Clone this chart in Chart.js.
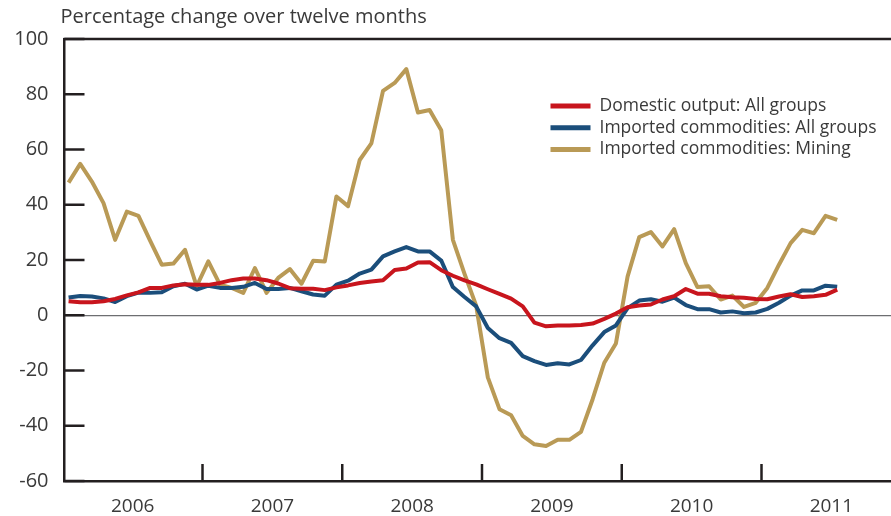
<!DOCTYPE html>
<html>
<head>
<meta charset="utf-8">
<script src="https://cdn.jsdelivr.net/npm/chart.js@4.4.0/dist/chart.umd.min.js"></script>
<style>
  html, body { margin: 0; padding: 0; background: #fff; }
</style>
</head>
<body>
<canvas id="chart" width="891" height="516"></canvas>
<script>
// monthly, Jan 2006 .. Jul 2011 (index 0 = Jan 2006)
var years = ['2006', '2007', '2008', '2009', '2010', '2011'];
var yTicks = [-60, -40, -20, 0, 20, 40, 60, 80, 100];
var seriesNames = ['Domestic output: All groups', 'Imported commodities: All groups', 'Imported commodities: Mining'];

var domestic = [5.1, 4.7, 4.7, 5.1, 5.9, 7.2, 8.3, 9.9, 9.9, 10.8, 11.2, 11.0,
  11.0, 11.7, 12.7, 13.3, 13.3, 12.7, 11.5, 9.8, 9.6, 9.6, 9.1, 10.1,
  10.8, 11.7, 12.2, 12.7, 16.4, 16.9, 19.1, 19.2, 16.3, 14.3, 12.6, 11.2,
  9.4, 7.7, 6.0, 3.2, -2.7, -4.0, -3.7, -3.7, -3.5, -3.0, -1.3, 0.6,
  2.9, 3.5, 3.9, 5.7, 6.9, 9.5, 7.8, 7.8, 6.9, 6.5, 6.3, 5.9,
  5.8, 6.8, 7.6, 6.6, 6.9, 7.4, 9.3];

var importedAll = [6.4, 7.0, 6.8, 6.1, 4.8, 6.9, 8.2, 8.1, 8.3, 10.5, 11.4, 9.3,
  10.7, 9.9, 9.9, 10.3, 11.7, 9.5, 9.5, 9.9, 8.7, 7.5, 7.1, 11.1,
  12.5, 15.1, 16.5, 21.3, 23.1, 24.7, 23.1, 23.1, 19.8, 10.2, 6.6, 3.2,
  -4.6, -8.3, -10.0, -14.8, -16.6, -18.0, -17.4, -17.8, -16.2, -10.9, -6.1, -3.7,
  2.6, 5.3, 5.8, 4.9, 6.4, 3.7, 2.2, 2.2, 1.0, 1.4, 0.7, 1.0,
  2.3, 4.5, 7.1, 9.0, 9.0, 10.7, 10.3];

var mining = [48.0, 54.8, 48.4, 40.6, 27.3, 37.5, 36.0, 27.0, 18.3, 18.7, 23.7, 10.5,
  19.5, 11.1, 9.9, 8.1, 17.1, 8.1, 13.5, 16.7, 11.4, 19.7, 19.5, 43.0,
  39.5, 56.2, 62.2, 81.2, 84.1, 89.1, 73.4, 74.3, 67.0, 27.3, 15.0, 3.5,
  -22.5, -34.0, -36.2, -43.7, -46.7, -47.3, -45.1, -45.1, -42.2, -30.4, -17.2, -10.2,
  14.0, 28.3, 30.1, 24.9, 31.2, 18.9, 10.2, 10.5, 5.7, 7.1, 3.0, 4.5,
  9.9, 18.3, 26.1, 30.9, 29.7, 36.0, 34.5];

var FONT = '"Open Sans", "Liberation Sans", sans-serif';
var TEXT = '#3a3a3a';
var AXIS = '#231f20';
var colors = ['#c8151d', '#1b4e7b', '#b99a56'];

function toPoints(arr) {
  return arr.map(function (v, i) { return { x: i, y: v }; });
}

// inward tick marks, top rule, title and legend
var decor = {
  id: 'decor',
  afterDraw: function (chart) {
    var c = chart.ctx, a = chart.chartArea;
    var xs = chart.scales.x, ys = chart.scales.y;
    c.save();
    c.strokeStyle = AXIS;
    c.lineWidth = 2.5;
    // top rule
    c.beginPath();
    c.moveTo(a.left - 1, a.top);
    c.lineTo(a.right, a.top);
    c.stroke();
    // y ticks
    yTicks.forEach(function (v) {
      var py = ys.getPixelForValue(v);
      c.beginPath();
      c.moveTo(a.left, py);
      c.lineTo(a.left + 20, py);
      c.stroke();
    });
    // year boundaries
    for (var k = 1; k < years.length; k++) {
      var px = xs.getPixelForValue(k * 12 - 0.5);
      c.beginPath();
      c.moveTo(px, a.bottom);
      c.lineTo(px, a.bottom - 17);
      c.stroke();
    }
    // title
    c.fillStyle = TEXT;
    c.font = '20px ' + FONT;
    c.textAlign = 'left';
    c.textBaseline = 'middle';
    c.fillText('Percentage change over twelve months', a.left - 4, 17);
    // legend
    c.font = '17.5px ' + FONT;
    chart.data.datasets.forEach(function (ds, i) {
      var ly = a.top + 67 + i * 21.7;
      c.strokeStyle = ds.borderColor;
      c.lineWidth = 5;
      c.beginPath();
      c.moveTo(a.left + 486, ly);
      c.lineTo(a.left + 526, ly);
      c.stroke();
      c.fillStyle = TEXT;
      c.fillText(ds.label, a.left + 535, ly);
    });
    c.restore();
  }
};

new Chart(document.getElementById('chart'), {
  type: 'line',
  data: {
    datasets: [
      { label: seriesNames[0], data: toPoints(domestic), borderColor: colors[0] },
      { label: seriesNames[1], data: toPoints(importedAll), borderColor: colors[1] },
      { label: seriesNames[2], data: toPoints(mining), borderColor: colors[2] }
    ]
  },
  options: {
    responsive: false,
    animation: false,
    layout: { padding: { top: 39, left: 0, right: 0, bottom: 0 } },
    elements: {
      line: { borderWidth: 4, tension: 0, borderJoinStyle: 'round', fill: false },
      point: { radius: 0 }
    },
    plugins: {
      legend: { display: false },
      tooltip: { enabled: false }
    },
    scales: {
      x: {
        type: 'linear',
        min: -0.35,
        max: 70.62,
        afterFit: function (s) { s.height = 35; },
        afterBuildTicks: function (s) {
          s.ticks = years.map(function (y, i) { return { value: i * 12 + 5.5 }; });
        },
        ticks: {
          autoSkip: false,
          maxRotation: 0,
          padding: 6,
          color: TEXT,
          font: { family: FONT, size: 19 },
          callback: function (v) { return years[Math.round((v - 5.5) / 12)]; }
        },
        grid: { display: false },
        border: { display: true, color: AXIS, width: 2.5 }
      },
      y: {
        min: -60,
        max: 100,
        afterFit: function (s) { s.width = 64.5; },
        afterBuildTicks: function (s) {
          s.ticks = yTicks.map(function (v) { return { value: v }; });
        },
        ticks: {
          padding: 16,
          color: TEXT,
          font: { family: FONT, size: 20 }
        },
        grid: {
          drawTicks: false,
          lineWidth: 1.2,
          color: function (ctx) { return ctx.tick && ctx.tick.value === 0 ? '#6d6e71' : 'rgba(0,0,0,0)'; }
        },
        border: { display: true, color: AXIS, width: 2.5 }
      }
    }
  },
  plugins: [decor]
});
</script>
</body>
</html>
